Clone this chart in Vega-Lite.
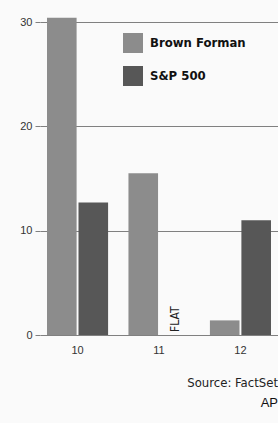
{
  "$schema": "https://vega.github.io/schema/vega-lite/v6.json",
  "width": 238,
  "height": 313,
  "autosize": {"type": "none"},
  "padding": {"left": 40, "top": 22, "right": 0, "bottom": 88},
  "background": "#fafafa",
  "config": {"view": {"stroke": null}, "font": "Liberation Sans"},
  "title": {
    "text": "Source: FactSet",
    "subtitle": "AP",
    "orient": "bottom",
    "anchor": "end",
    "offset": 22,
    "font": "'DejaVu Sans Condensed', 'Liberation Sans'",
    "fontSize": 13,
    "fontWeight": "normal",
    "color": "#222",
    "subtitleFont": "Liberation Sans",
    "subtitleFontSize": 13,
    "subtitleColor": "#111",
    "subtitlePadding": 7
  },
  "data": {
    "values": [
      {"year": "10", "series": "Brown Forman", "value": 30.4},
      {"year": "10", "series": "S&P 500", "value": 12.7},
      {"year": "11", "series": "Brown Forman", "value": 15.5},
      {"year": "11", "series": "S&P 500", "value": 0, "label": "FLAT"},
      {"year": "12", "series": "Brown Forman", "value": 1.4},
      {"year": "12", "series": "S&P 500", "value": 11.0}
    ]
  },
  "encoding": {
    "x": {
      "field": "year",
      "type": "nominal",
      "scale": {"paddingInner": 0.25, "paddingOuter": 0.086},
      "axis": {
        "title": null,
        "labelAngle": 0,
        "ticks": false,
        "domain": false,
        "labelPadding": 9,
        "labelFontSize": 11,
        "labelColor": "#333"
      }
    },
    "xOffset": {"field": "series", "scale": {"paddingInner": 0.06}},
    "y": {
      "field": "value",
      "type": "quantitative",
      "scale": {"domain": [0, 30], "nice": false},
      "axis": {
        "title": null,
        "values": [0, 10, 20, 30],
        "grid": true,
        "gridColor": "#808080",
        "gridWidth": 1,
        "gridOpacity": 1,
        "domain": false,
        "ticks": true,
        "tickSize": 5,
        "tickColor": "#808080",
        "labelPadding": 3,
        "labelFontSize": 11,
        "labelColor": "#333"
      }
    }
  },
  "layer": [
    {
      "mark": {"type": "bar", "clip": false},
      "encoding": {
        "color": {
          "field": "series",
          "type": "nominal",
          "scale": {"domain": ["Brown Forman", "S&P 500"], "range": ["#8c8c8c", "#575757"]},
          "legend": {
            "title": null,
            "orient": "none",
            "legendX": 83,
            "legendY": 11,
            "symbolType": "square",
            "symbolSize": 400,
            "symbolStrokeWidth": 0,
            "symbolOpacity": 1,
            "labelFont": "'DejaVu Sans Condensed', 'Liberation Sans'",
            "labelFontSize": 13,
            "labelFontWeight": "bold",
            "labelColor": "#111",
            "labelOffset": 7,
            "rowPadding": 13
          }
        }
      }
    },
    {
      "transform": [{"filter": "datum.label"}],
      "mark": {"type": "text", "angle": 270, "align": "left", "baseline": "middle", "dx": 3, "fontSize": 12, "font": "'DejaVu Sans Condensed', 'Liberation Sans'", "color": "#222"},
      "encoding": {"text": {"field": "label"}}
    }
  ]
}
